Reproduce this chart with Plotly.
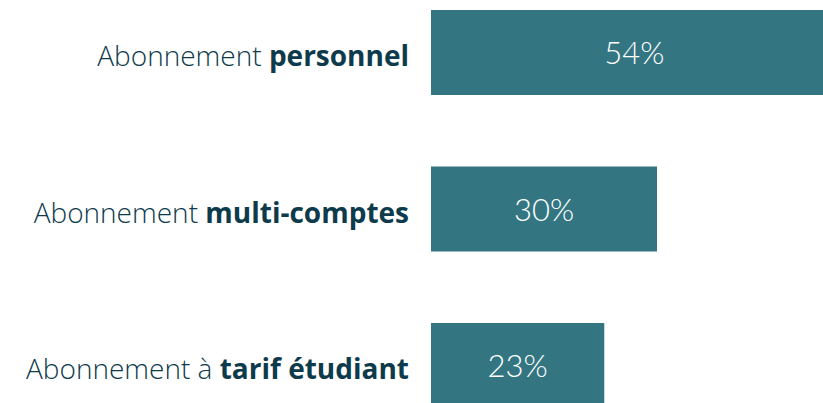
import plotly.graph_objects as go

categories = ["Abonnement <b>personnel</b>", "Abonnement <b>multi-comptes</b>", "Abonnement à <b>tarif étudiant</b>"]
values = [54, 30, 23]
value_labels = ["54%", "30%", "23%"]

positions = list(range(len(categories)))

fig = go.Figure(go.Bar(
    x=values, y=positions, orientation="h",
    marker=dict(color="#337682", line=dict(width=0)),
    width=0.543,
    text=value_labels, textposition="inside", insidetextanchor="middle",
    textfont=dict(color="white", size=31, family="Lato", weight=300),
    hoverinfo="skip",
    cliponaxis=True,
))

fig.update_layout(
    width=823, height=403,
    margin=dict(l=431, r=0, t=0, b=0),
    plot_bgcolor="white", paper_bgcolor="white",
    showlegend=False,
    uniformtext=dict(mode=False),
)
fig.update_xaxes(range=[0, 52.03], visible=False, fixedrange=True)
fig.update_yaxes(
    range=[2.240, -0.335],
    tickmode="array", tickvals=positions, ticktext=categories,
    tickfont=dict(color="#0e3b4c", size=28, family="Open Sans", weight=300),
    showgrid=False, zeroline=False, showline=False, fixedrange=True,
    ticks="", ticklabelstandoff=21, ticklabelshift=-4,
)

fig.write_html("out.html", config={"displayModeBar": False, "staticPlot": True},
               post_script="document.body.style.margin='0';document.body.style.padding='0';")
